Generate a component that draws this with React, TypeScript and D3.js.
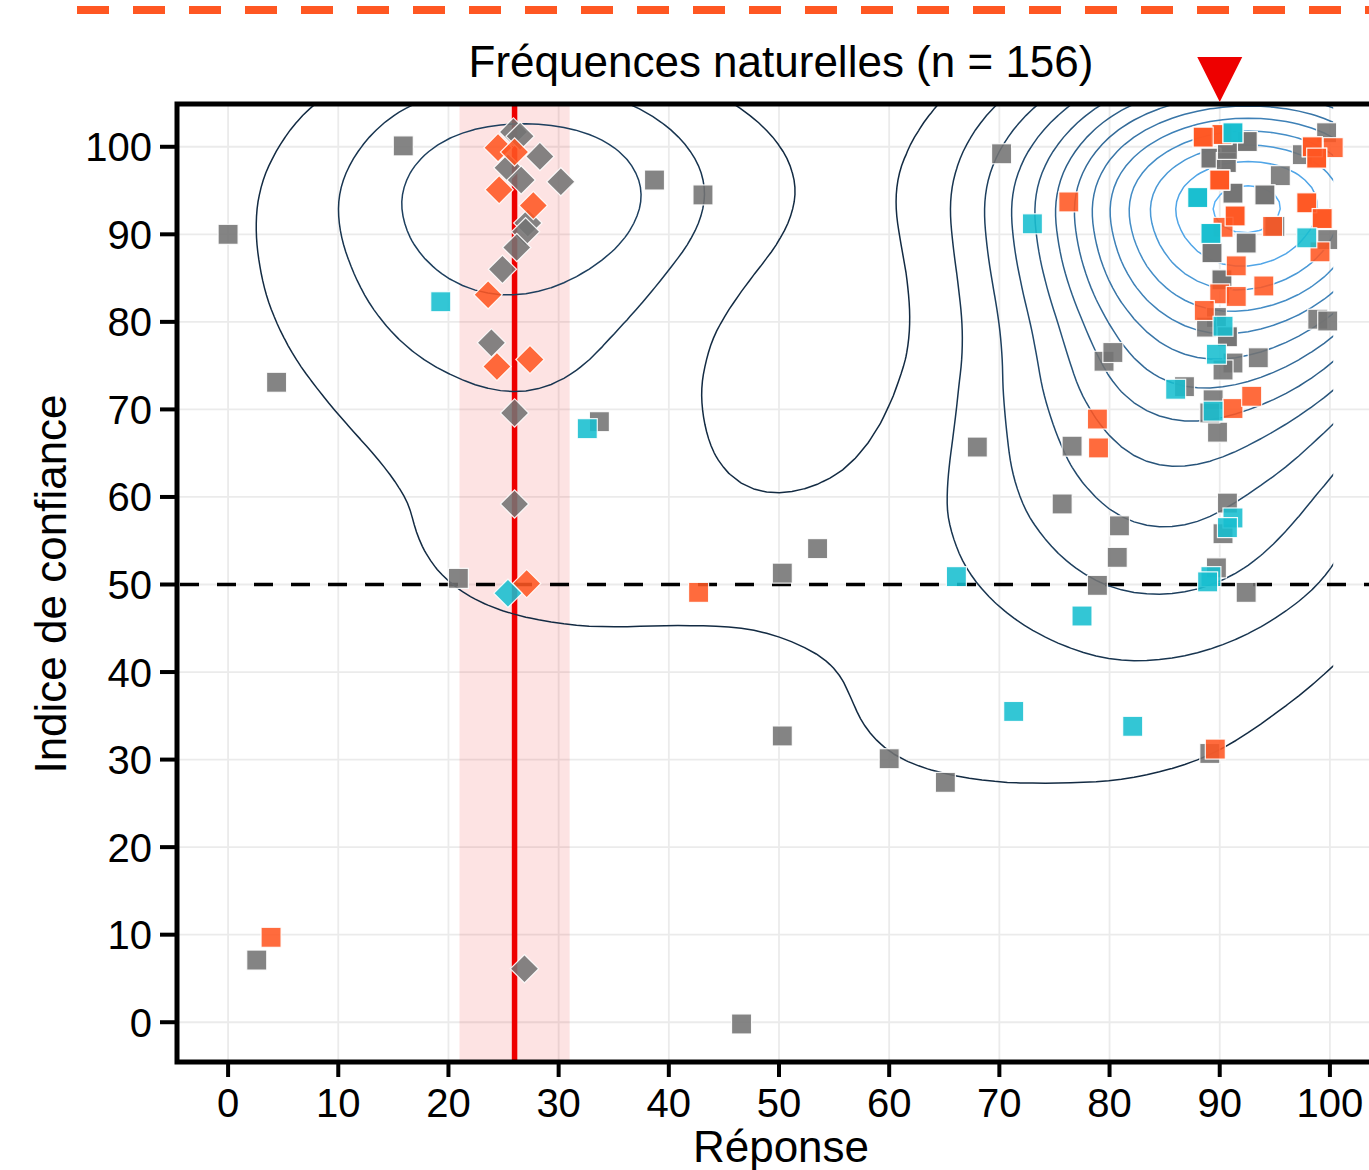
import React, { useEffect, useRef } from "react";
import * as d3 from "d3";

// tick values on both axes
const xTicks = [0, 10, 20, 30, 40, 50, 60, 70, 80, 90, 100];
const yTicks = [0, 10, 20, 30, 40, 50, 60, 70, 80, 90, 100];

// [réponse, indice de confiance]
// (many answers near 90 sit exactly on top of each other, so some pairs repeat)
const grayPts: [number, number][] = [
  [0, 90], [4.4, 73.1], [2.6, 7.1], [15.9, 100.1], [20.9, 50.7], [33.7, 68.6],
  [38.7, 96.2], [43.1, 94.5], [46.6, -0.2], [50.3, 51.3], [53.5, 54.1], [50.3, 32.7],
  [60, 30.1], [65.1, 27.4], [68, 65.7], [70.2, 99.2], [75.7, 59.2], [76.6, 65.8],
  [79.5, 75.5], [80.3, 76.5], [78.9, 49.9], [80.9, 56.7], [80.7, 53.1], [86.8, 72.6],
  [89.1, 30.7], [92.4, 49.1], [90.7, 59.3], [90.3, 55.8], [89.7, 51.9], [89.4, 71.1],
  [89.8, 67.4], [89.1, 69.6], [92.5, 100.6], [90.7, 99.7], [89.2, 98.7], [90.6, 98.2],
  [99.7, 101.6], [97.5, 99.1], [95.5, 96.7], [91.2, 94.7], [94.1, 94.5], [95.0, 90.9],
  [99.8, 89.4], [92.4, 89.0], [89.3, 87.9], [90.2, 84.8], [89.7, 80.5], [88.8, 79.4],
  [90.7, 78.3], [98.9, 80.3], [99.8, 80.1], [91.2, 75.3], [90.3, 74.5], [93.5, 75.9],
  [90.7, 99.7], [89.2, 98.7], [91.2, 94.7], [89.3, 87.9], [90.2, 84.8], [90.7, 78.3],
  [92.5, 100.6], [90.6, 98.2], [94.1, 94.5], [92.4, 89.0], [95.0, 90.9], [90.7, 99.7],
  [25.9, 101.7], [26.5, 101.2], [28.3, 98.9], [25.4, 97.6], [26.6, 96.2], [30.2, 96.0],
  [27.2, 91.3], [27.0, 90.3], [26.2, 88.5], [24.9, 86.0], [23.9, 77.6], [26.0, 69.6],
  [26.0, 59.2], [26.9, 6.1],
];

const orangePts: [number, number][] = [
  [3.9, 9.7], [42.7, 49.1], [89.6, 31.2], [76.3, 93.7], [78.9, 68.9], [79.0, 65.6],
  [88.5, 101.1], [90.2, 101.4], [98.4, 100], [100.3, 99.9], [98.8, 98.7], [90, 96.2],
  [97.9, 93.6], [91.4, 92.1], [90.3, 90.8], [94.8, 90.9], [99.3, 91.8], [99.1, 88.0],
  [91.5, 86.4], [94.0, 84.1], [90.0, 83.2], [91.5, 82.9], [88.6, 81.3], [91.2, 70.1],
  [92.9, 71.5], [90.2, 101.4], [90, 96.2], [91.4, 92.1], [98.4, 100],
  [88.5, 101.1], [90, 96.2], [97.9, 93.6], [99.3, 91.8], [98.8, 98.7],
  [24.5, 99.9], [26.0, 99.4], [24.6, 95.1], [27.7, 93.3], [23.6, 83.1],
  [24.4, 74.9], [27.4, 75.7], [27.1, 50.1],
];

const cyanPts: [number, number][] = [
  [19.3, 82.3], [32.6, 67.8], [66.1, 50.9], [71.3, 35.5], [82.1, 33.8], [77.5, 46.4],
  [73.0, 91.2], [91.2, 101.6], [88.0, 94.2], [89.2, 90.1], [97.9, 89.6], [90.3, 79.5],
  [89.7, 76.3], [86.0, 72.3], [89.4, 69.8], [91.2, 57.6], [90.7, 56.5], [89.2, 50.9],
  [88.9, 50.3], [89.2, 90.1], [88.0, 94.2], [91.2, 101.6], [25.4, 49.0],
];

const bandLo = 21;
const bandHi = 31;
const correctAnswer = 26;
const modeAnswer = 90;
const midConfidence = 50;
const contourLevels = 13; // number of density levels drawn

export default function App() {
  const ref = useRef<SVGSVGElement>(null);

  useEffect(() => {
    const svg = d3.select(ref.current);
    svg.selectAll("*").remove();

    const x = d3.scaleLinear().domain([-5, 105]).range([173, 1385]);
    const y = d3.scaleLinear().domain([-5, 105]).range([1066, 103]);
    const font = "'Liberation Sans', Arial, sans-serif";

    svg.append("rect").attr("width", 1369).attr("height", 1170).attr("fill", "#fff");

    // orange dashed line across the top
    svg.append("line")
      .attr("x1", 77).attr("x2", 1369).attr("y1", 10).attr("y2", 10)
      .attr("stroke", "#FF5722").attr("stroke-width", 8)
      .attr("stroke-dasharray", "32 24");

    svg.append("text")
      .attr("x", 781).attr("y", 77)
      .attr("text-anchor", "middle")
      .attr("font-family", font).attr("font-size", 44)
      .text("Fréquences naturelles (n = 156)");

    const defs = svg.append("defs");
    defs.append("clipPath").attr("id", "panel")
      .append("rect").attr("x", 177).attr("y", 104).attr("width", 1300).attr("height", 958);
    defs.append("clipPath").attr("id", "kde")
      .append("rect").attr("x", x(0)).attr("y", 104).attr("width", x(100.3) - x(0)).attr("height", 958);

    const panel = svg.append("g").attr("clip-path", "url(#panel)");

    // grid
    panel.selectAll(".gx").data(xTicks).join("line")
      .attr("x1", d => x(d)).attr("x2", d => x(d)).attr("y1", 103).attr("y2", 1066)
      .attr("stroke", "#EBEBEB").attr("stroke-width", 1.8);
    panel.selectAll(".gy").data(yTicks).join("line")
      .attr("y1", d => y(d)).attr("y2", d => y(d)).attr("x1", 173).attr("x2", 1385)
      .attr("stroke", "#EBEBEB").attr("stroke-width", 1.8);

    // interval band + correct answer
    panel.append("rect")
      .attr("x", x(bandLo)).attr("width", x(bandHi) - x(bandLo))
      .attr("y", 103).attr("height", 963)
      .attr("fill", "#EE0000").attr("fill-opacity", 0.11);
    panel.append("line")
      .attr("x1", x(correctAnswer)).attr("x2", x(correctAnswer)).attr("y1", 103).attr("y2", 1066)
      .attr("stroke", "#EE0000").attr("stroke-width", 5.5);

    panel.append("line")
      .attr("x1", 180).attr("x2", 1385).attr("y1", y(midConfidence)).attr("y2", y(midConfidence))
      .attr("stroke", "#000").attr("stroke-width", 3.5).attr("stroke-dasharray", "19 18");

    // 2d density contours (anisotropic kernel: work in a rescaled space)
    const allPts = [...grayPts, ...orangePts, ...cyanPts];
    const sdX = 11.5, sdY = 8.2, BW = 20, off = 25;
    const toU = (v: number) => (v + off) / sdX * BW;
    const toV = (v: number) => (105 + off - v) / sdY * BW;
    const dens: any = d3.contourDensity<[number, number]>()
      .x(d => toU(d[0])).y(d => toV(d[1]))
      .size([toU(105 + off), toV(-5 - off)])
      .bandwidth(BW).cellSize(2);

    let maxD = 0;
    let contourAt: (t: number) => any;
    if (typeof dens.contours === "function") {
      const c = dens.contours(allPts);
      maxD = c.max;
      contourAt = (t: number) => c(t);
    } else {
      const cs = dens.thresholds(300)(allPts);
      maxD = d3.max(cs, (c: any) => c.value) as number;
      contourAt = (t: number) => dens.thresholds([t])(allPts)[0];
    }
    const step = maxD / (contourLevels + 0.3);
    const levels = d3.range(1, contourLevels + 1).map(i => i * step);
    const levelColor = d3.scaleLinear<string>()
      .domain([levels[0], levels[levels.length - 1]])
      .range(["#132B43", "#56B1F7"])
      .interpolate(d3.interpolateLab);

    const back = d3.geoTransform({
      point(u: number, v: number) {
        this.stream.point(x(u / BW * sdX - off), y(105 + off - v / BW * sdY));
      },
    });
    const path = d3.geoPath(back);

    panel.append("g").attr("clip-path", "url(#kde)")
      .selectAll("path").data(levels).join("path")
      .attr("d", t => path(contourAt(t)))
      .attr("fill", "none")
      .attr("stroke", t => levelColor(t))
      .attr("stroke-width", 1.5);

    // points: diamonds inside the interval, squares elsewhere
    const groups: [[number, number][], string][] = [
      [grayPts, "#737373"],
      [orangePts, "#FF5722"],
      [cyanPts, "#17BECF"],
    ];
    const side = 20;
    groups.forEach(([pts, col]) => {
      panel.append("g").selectAll("rect").data(pts).join("rect")
        .attr("x", -side / 2).attr("y", -side / 2)
        .attr("width", side).attr("height", side)
        .attr("transform", d => {
          const inBand = d[0] >= bandLo && d[0] <= bandHi;
          return `translate(${x(d[0])},${y(d[1])})` + (inBand ? " rotate(45)" : "");
        })
        .attr("fill", col).attr("fill-opacity", 0.88)
        .attr("stroke", "#fff").attr("stroke-opacity", 0.9).attr("stroke-width", 1.2);
    });

    // frame
    svg.append("rect")
      .attr("x", 177).attr("y", 104).attr("width", 1300).attr("height", 958)
      .attr("fill", "none").attr("stroke", "#000").attr("stroke-width", 5);

    // triangle marker above the panel
    const tx = x(modeAnswer);
    svg.append("path")
      .attr("d", d3.line()([[tx - 22.5, 57], [tx + 22.5, 57], [tx, 102]]) + "Z")
      .attr("fill", "#EE0000");

    // axes
    const yAxis = svg.append("g");
    yAxis.selectAll("line").data(yTicks).join("line")
      .attr("x1", 160).attr("x2", 177).attr("y1", d => y(d)).attr("y2", d => y(d))
      .attr("stroke", "#000").attr("stroke-width", 4);
    yAxis.selectAll("text").data(yTicks).join("text")
      .attr("x", 152).attr("y", d => y(d) + 14.5)
      .attr("text-anchor", "end")
      .attr("font-family", font).attr("font-size", 40)
      .text(d => d);

    const xAxis = svg.append("g");
    xAxis.selectAll("line").data(xTicks).join("line")
      .attr("x1", d => x(d)).attr("x2", d => x(d)).attr("y1", 1062).attr("y2", 1077)
      .attr("stroke", "#000").attr("stroke-width", 4);
    xAxis.selectAll("text").data(xTicks).join("text")
      .attr("x", d => x(d)).attr("y", 1117)
      .attr("text-anchor", "middle")
      .attr("font-family", font).attr("font-size", 40)
      .text(d => d);

    svg.append("text")
      .attr("x", 781).attr("y", 1162)
      .attr("text-anchor", "middle")
      .attr("font-family", font).attr("font-size", 44)
      .text("Réponse");

    svg.append("text")
      .attr("transform", "translate(66,584) rotate(-90)")
      .attr("text-anchor", "middle")
      .attr("font-family", font).attr("font-size", 44)
      .text("Indice de confiance");
  }, []);

  return (
    <svg ref={ref} width={1369} height={1170}
      style={{ position: "absolute", left: 0, top: 0, display: "block" }} />
  );
}
